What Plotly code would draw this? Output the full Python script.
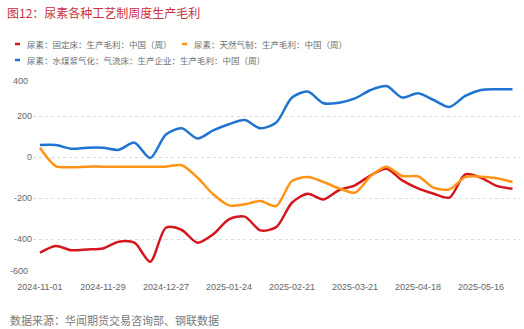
import pandas as pd
import plotly.graph_objects as go

dates = pd.date_range("2024-11-01", periods=31, freq="7D")

names = [
    "尿素：固定床：生产毛利：中国（周）",
    "尿素：天然气制：生产毛利：中国（周）",
    "尿素：水煤浆气化：气流床：生产企业：生产毛利：中国（周）",
]

fixed_bed = [-467, -434, -455, -451, -446, -413, -418, -511, -345, -356,
             -418, -377, -304, -291, -358, -342, -223, -179, -207, -161,
             -138, -89, -57, -114, -153, -179, -198, -85, -101, -141, -155]
natural_gas = [45, -44, -50, -47, -47, -47, -47, -47, -47, -40,
               -100, -182, -236, -231, -215, -239, -117, -98, -122, -153,
               -174, -93, -47, -93, -94, -150, -158, -98, -96, -104, -122]
coal_water = [58, 58, 40, 45, 45, 35, 70, -5, 110, 140,
              90, 130, 160, 180, 140, 168, 290, 319, 262, 265,
              286, 327, 346, 290, 311, 278, 244, 298, 327, 330, 330]

y_ticks = [-600, -400, -200, 0, 200, 400]

colors = ["#d3171d", "#ff9416", "#1f74d2"]
series = [fixed_bed, natural_gas, coal_water]

W, H = 524, 329
L, R, T, B = 33, 4, 75, 49
PW, PH = W - L - R, H - T - B

def px_x(px):
    return (px - L) / PW

def px_y(py):
    return (H - B - py) / PH

fig = go.Figure()
for name, vals, c in zip(names, series, colors):
    fig.add_trace(go.Scatter(
        x=dates, y=vals, name=name, mode="lines",
        line=dict(color=c, width=2.5, shape="spline", smoothing=0.8),
        showlegend=False,
    ))

cjk = "Noto Sans CJK SC"
annotations = [
    dict(text="图12：尿素各种工艺制周度生产毛利", x=px_x(5), y=px_y(13),
         xanchor="left", yanchor="middle", font=dict(family=cjk, size=12, color="#c8323c")),
    dict(text="数据来源：华闻期货交易咨询部、钢联数据", x=px_x(8), y=px_y(320),
         xanchor="left", yanchor="middle", font=dict(family=cjk, size=11, color="#7a7a7a")),
]
legend_pos = [(15, 44), (182, 44), (15, 60)]
shapes = []
for (lx, ly), name, c in zip(legend_pos, names, colors):
    shapes.append(dict(type="line", xref="paper", yref="paper",
                       x0=px_x(lx), x1=px_x(lx + 5), y0=px_y(ly), y1=px_y(ly),
                       line=dict(color=c, width=2.5)))
    annotations.append(dict(text=name, x=px_x(lx + 10), y=px_y(ly),
                            xanchor="left", yanchor="middle",
                            font=dict(family=cjk, size=8.5, color="#6e6e6e")))

# end tick labels nudged inward, as in the reference
ticktext = [str(v) for v in y_ticks]
ticktext[0] = ""
ticktext[-1] = ""
annotations.append(dict(text=str(y_ticks[-1]), x=px_x(30), y=px_y(81), xanchor="right",
                        yanchor="middle", font=dict(family="Liberation Sans", size=9, color="#666666")))
annotations.append(dict(text=str(y_ticks[0]), x=px_x(30), y=px_y(271), xanchor="right",
                        yanchor="middle", font=dict(family="Liberation Sans", size=9, color="#666666")))

for a in annotations:
    a.update(xref="paper", yref="paper", showarrow=False)

fig.update_layout(
    width=W, height=H,
    margin=dict(l=L, r=R, t=T, b=B, autoexpand=False),
    paper_bgcolor="white", plot_bgcolor="white",
    annotations=annotations, shapes=shapes,
    font=dict(family="Liberation Sans", size=9, color="#666666"),
    xaxis=dict(
        type="date",
        range=["2024-10-28 22:00", "2025-06-02 08:00"],
        tick0="2024-11-01", dtick=28 * 86400000, tickformat="%Y-%m-%d",
        showgrid=False, zeroline=False, showline=False, ticks="",
        tickfont=dict(size=9, color="#666666"),
    ),
    yaxis=dict(
        range=[-600, 400], tickvals=y_ticks, ticktext=ticktext,
        showgrid=True, gridcolor="#dcdcdc", griddash="dot", gridwidth=1,
        zeroline=False, showline=False, ticks="",
        tickfont=dict(size=9, color="#666666"),
    ),
)

fig.write_html("out.html")
